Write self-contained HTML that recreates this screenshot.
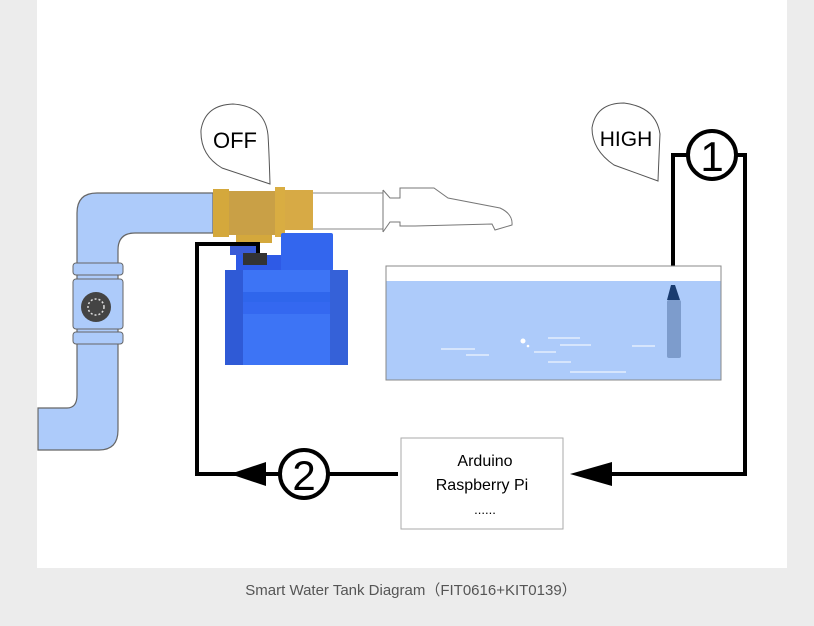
<!DOCTYPE html>
<html><head><meta charset="utf-8"><style>
html,body{margin:0;padding:0;background:#ececec;width:814px;height:626px;overflow:hidden}
svg{position:absolute;left:0;top:0}
text{font-family:"Liberation Sans",sans-serif}
</style></head><body>
<svg width="814" height="626" viewBox="0 0 814 626">
<rect x="0" y="0" width="814" height="626" fill="#ececec"/>
<rect x="37" y="0" width="750" height="568" fill="#fff"/>
<text x="411" y="595" font-size="15" fill="#555" text-anchor="middle" style="font-family:'Liberation Sans Narrow','Liberation Sans',sans-serif">Smart Water Tank Diagram（FIT0616+KIT0139）</text>

<path d="M213,193 L97,193 Q77,193 77,213 L77,395 Q77,408 67,408 L45,408 L38,408 L38,450 L99,450 Q118,450 118,430 L118,250 Q118,233 135,233 L213,233 Z" fill="#adcbfa" stroke="#666" stroke-width="1.2"/>
<rect x="73" y="263" width="50" height="12" rx="3" fill="#adcbfa" stroke="#666"/>
<rect x="73" y="279" width="50" height="50" rx="3" fill="#adcbfa" stroke="#666"/>
<rect x="73" y="332" width="50" height="12" rx="3" fill="#adcbfa" stroke="#666"/>
<circle cx="96" cy="307" r="15" fill="#444"/>
<circle cx="96" cy="307" r="8" fill="none" stroke="#ddd" stroke-width="1.5" stroke-dasharray="2 2"/>

<path d="M313,193 L383,193 L383,229 L313,229" fill="#fff" stroke="#888"/>
<path d="M383,190 L383,232 M383,190 L390,198 L400,198 L400,188 L434,188 L448,198 L500,208 Q513,214 512,225 L495,230 L492,224 L415,226 L400,226 L400,222 L390,222 L383,232" fill="#fff" stroke="#777"/>

<rect x="213" y="189" width="16" height="48" fill="#d4a83c"/>
<rect x="229" y="191" width="50" height="44" fill="#c9a046"/>
<rect x="275" y="187" width="10" height="50" fill="#d9ad42"/>
<rect x="285" y="190" width="28" height="40" fill="#d7aa45"/>
<rect x="236" y="235" width="36" height="8" fill="#d4a83c"/>

<rect x="230" y="243" width="30" height="12" fill="#3a5bd6"/>
<rect x="236" y="255" width="50" height="16" fill="#2e5ae6"/>
<rect x="281" y="233" width="52" height="38" rx="2" fill="#3366ee"/>
<rect x="225" y="270" width="123" height="95" fill="#3d74f5"/>
<rect x="225" y="270" width="18" height="95" fill="#2f5ad6"/>
<rect x="330" y="270" width="18" height="95" fill="#3561d8"/>
<rect x="243" y="292" width="87" height="10" fill="#2f66ec"/>
<rect x="243" y="302" width="87" height="12" fill="#3468f0"/>
<rect x="243" y="253" width="24" height="12" fill="#333"/>

<polyline points="258,253 258,244 197,244 197,474 280,474" fill="none" stroke="#000" stroke-width="4"/>
<line x1="328" y1="474" x2="398" y2="474" stroke="#000" stroke-width="4"/>
<polygon points="230,474 266,462 266,486" fill="#000"/>
<circle cx="304" cy="474" r="24" fill="#fff" stroke="#000" stroke-width="4"/>
<text x="304" y="490" font-size="42" text-anchor="middle" fill="#000">2</text>

<polyline points="612,474 745,474 745,155 736,155" fill="none" stroke="#000" stroke-width="4"/>
<polygon points="570,474 612,462 612,486" fill="#000"/>
<polyline points="688,155 673,155 673,285" fill="none" stroke="#000" stroke-width="4"/>
<circle cx="712" cy="155" r="24" fill="#fff" stroke="#000" stroke-width="4"/>
<text x="712" y="171" font-size="42" text-anchor="middle" fill="#000">1</text>

<rect x="386" y="266" width="335" height="114" fill="#fff" stroke="#888"/>
<rect x="386.5" y="281" width="334" height="98.5" fill="#adcbfa"/>
<g stroke="#fff" stroke-width="1">
<line x1="441" y1="349" x2="475" y2="349"/><line x1="466" y1="355" x2="489" y2="355"/>
<line x1="534" y1="352" x2="556" y2="352"/><line x1="548" y1="338" x2="580" y2="338"/>
<line x1="560" y1="345" x2="591" y2="345"/><line x1="548" y1="362" x2="571" y2="362"/>
<line x1="570" y1="372" x2="626" y2="372"/><line x1="632" y1="346" x2="655" y2="346"/>
</g>
<circle cx="523" cy="341" r="2.5" fill="#fff"/><circle cx="528" cy="346" r="1.3" fill="#fff"/>
<path d="M671,285 L675,285 L680,300 L667,300 Z" fill="#1a3c70"/>
<rect x="667" y="300" width="14" height="58" rx="2" fill="#7d9ccc"/>

<path d="M270,184 L222,168 Q200,155 201,130 Q205,105 233,104 Q265,106 268,135 Q269,150 270,184 Z" fill="#fff" stroke="#555"/>
<text x="235" y="148" font-size="22" text-anchor="middle" fill="#000">OFF</text>
<path d="M658,181 L614,165 Q592,150 592,128 Q596,103 624,103 Q656,107 660,134 Q659,155 658,181 Z" fill="#fff" stroke="#555"/>
<text x="626" y="146" font-size="21" text-anchor="middle" fill="#000">HIGH</text>

<rect x="401" y="438" width="162" height="91" fill="#fff" stroke="#aaa"/>
<text x="485" y="466" font-size="16" text-anchor="middle" fill="#000">Arduino</text>
<text x="482" y="490" font-size="16" text-anchor="middle" fill="#000">Raspberry Pi</text>
<text x="485" y="514" font-size="13" text-anchor="middle" fill="#000">......</text>
</svg>
</body></html>
